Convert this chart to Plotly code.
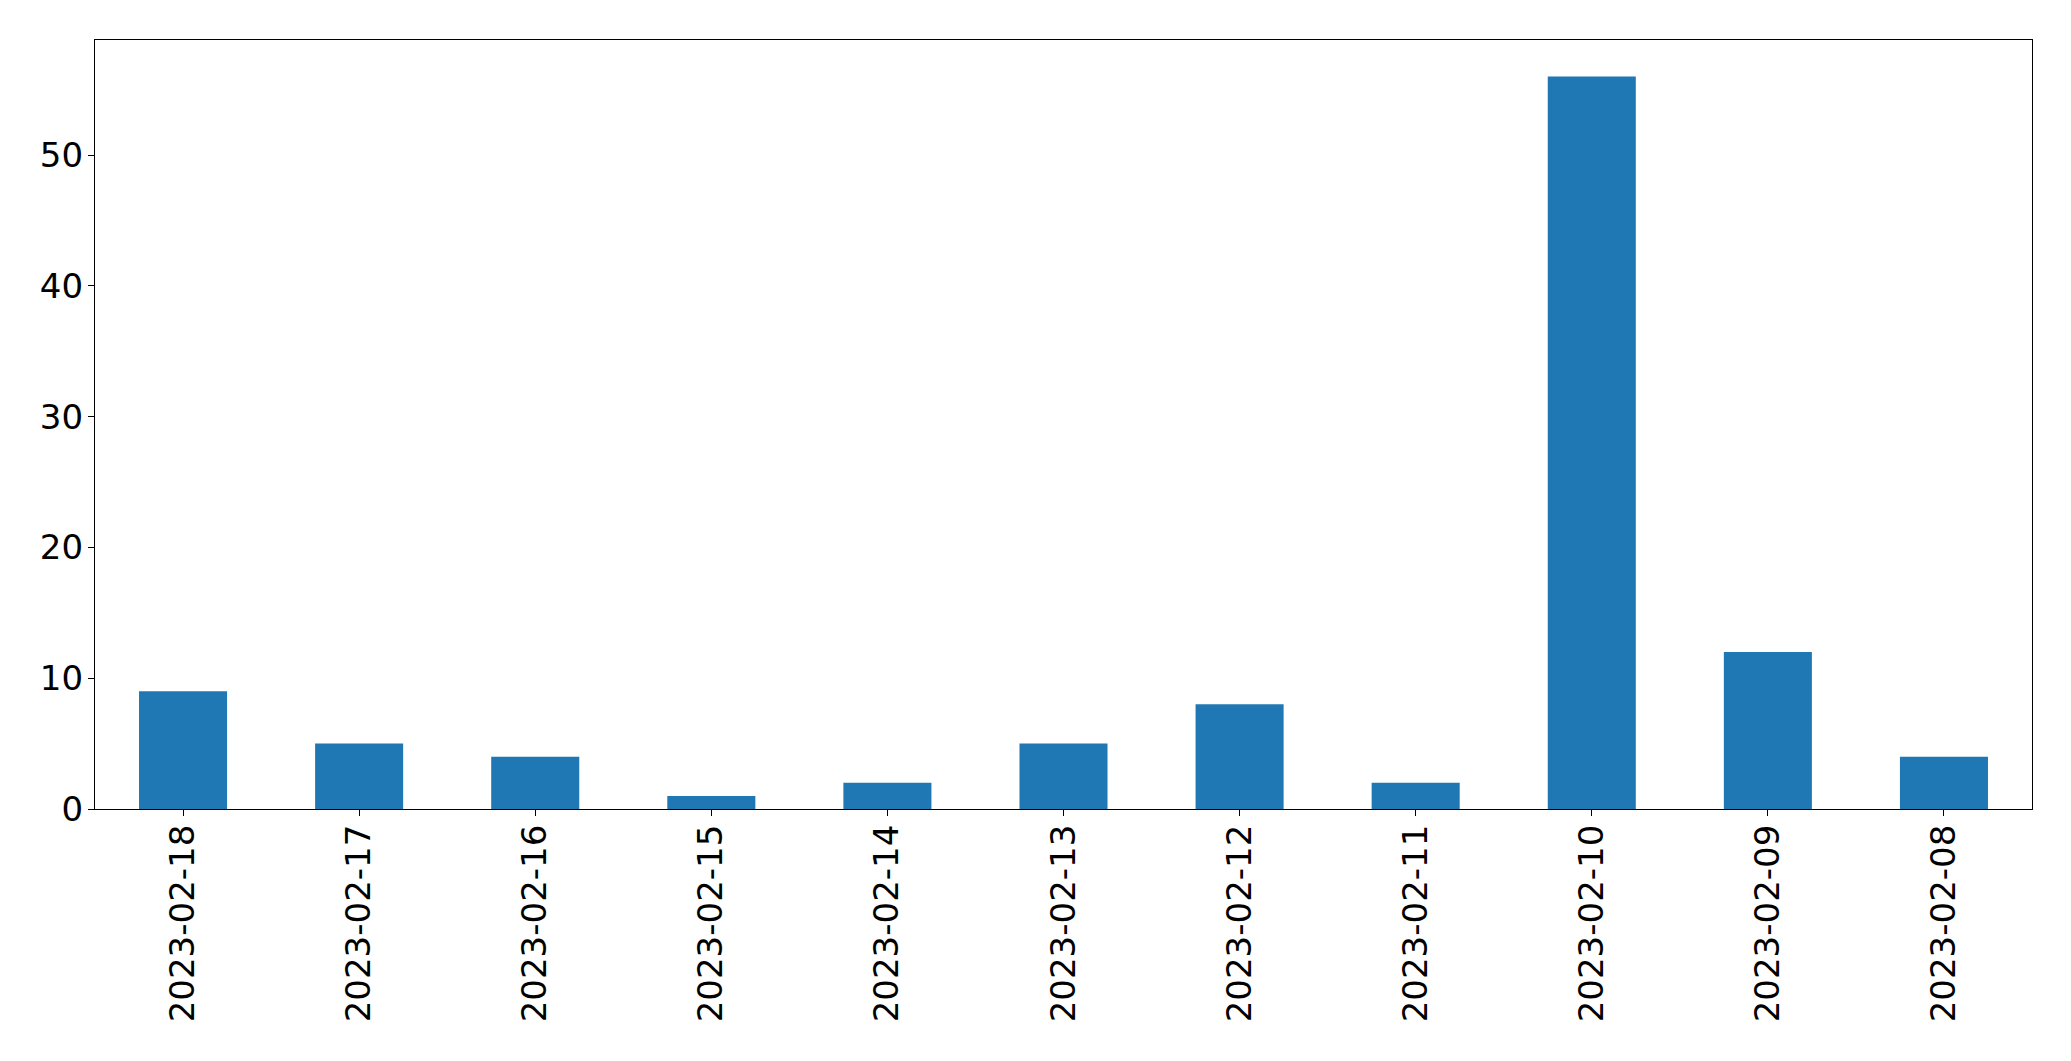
import plotly.graph_objects as go

dates = ["2023-02-18", "2023-02-17", "2023-02-16", "2023-02-15", "2023-02-14",
         "2023-02-13", "2023-02-12", "2023-02-11", "2023-02-10", "2023-02-09",
         "2023-02-08"]
counts = [9, 5, 4, 1, 2, 5, 8, 2, 56, 12, 4]
y_ticks = [0, 10, 20, 30, 40, 50]

fig = go.Figure(go.Bar(x=dates, y=counts, width=0.5, marker_color="#1f77b4",
                       marker_line_width=0))

font = dict(family="DejaVu Sans", size=34, color="black")
fig.update_layout(
    width=2055, height=1045,
    margin=dict(l=87, r=31, t=32, b=244),
    paper_bgcolor="white", plot_bgcolor="white",
    showlegend=False,
    font=font,
)
fig.update_xaxes(type="category", range=[-0.5, 10.5], tickangle=-90,
                 showline=True, linecolor="black", linewidth=1.2, mirror=True,
                 ticks="outside", ticklen=6, tickwidth=1.2, tickcolor="black",
                 showgrid=False, zeroline=False, tickfont=font, ticklabelstandoff=-5)
fig.update_yaxes(range=[0, 58.8], tickvals=y_ticks,
                 showline=True, linecolor="black", linewidth=1.2, mirror=True,
                 ticks="outside", ticklen=6, tickwidth=1.2, tickcolor="black",
                 showgrid=False, zeroline=False, tickfont=font, ticklabelstandoff=-2)

fig.write_html("out.html")
